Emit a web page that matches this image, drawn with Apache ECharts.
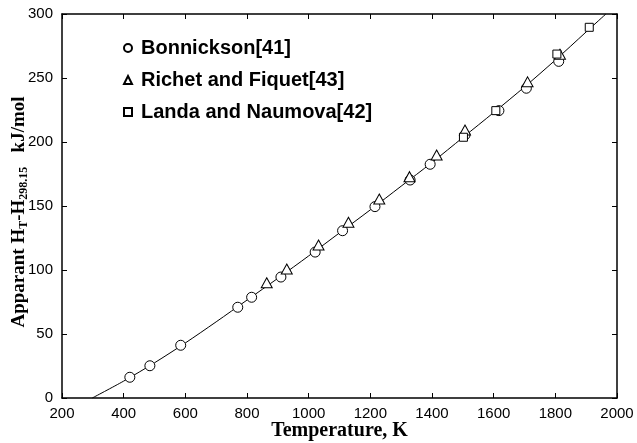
<!DOCTYPE html>
<html>
<head>
<meta charset="utf-8">
<script src="https://cdn.jsdelivr.net/npm/echarts@6/dist/echarts.min.js"></script>
<style>
  html, body { margin: 0; padding: 0; background: #fff; }
  #chart { width: 637px; height: 443px; }
</style>
</head>
<body>
<div id="chart"></div>
<script>
// Measured enthalpy increments (kJ/mol) against temperature (K)
const bonnicksonT = [420, 485, 585, 770, 815, 910, 1021, 1110, 1215, 1329, 1394, 1507, 1617, 1706, 1811];
const bonnicksonH = [16.2, 25.2, 41.2, 70.9, 78.7, 94.5, 114.0, 130.7, 149.5, 170.3, 182.6, 205.5, 224.5, 242.0, 263.0];

const richetT = [864, 929, 1032, 1129, 1229, 1327, 1415, 1507, 1710, 1815];
const richetH = [90.0, 100.8, 119.5, 137.3, 155.5, 172.9, 189.8, 209.4, 247.0, 268.5];

const landaT = [1502, 1607, 1805, 1910];
const landaH = [203.7, 224.5, 268.7, 289.6];

// Smooth fitted curve through the measurements
const fitT = [298.15, 400, 500, 600, 700, 800, 900, 1000, 1100, 1200, 1300, 1400, 1500, 1600, 1700, 1800, 1900, 1964];
const fitH = [0, 13.2, 27.5, 43.0, 59.5, 76.5, 93.5, 111.0, 129.0, 147.0, 165.5, 184.0, 203.5, 223.0, 243.0, 264.0, 286.0, 300.0];

// Axis ticks
const xTicks = [200, 400, 600, 800, 1000, 1200, 1400, 1600, 1800, 2000];
const yTicks = [0, 50, 100, 150, 200, 250, 300];

const seriesNames = ['Bonnickson[41]', 'Richet and Fiquet[43]', 'Landa and Naumova[42]'];

const pairs = (xs, ys) => xs.map((x, i) => [x, ys[i]]);

const chart = echarts.init(document.getElementById('chart'), null, { renderer: 'canvas' });

const tickFont = { fontFamily: 'Liberation Sans, Arial, sans-serif', fontSize: 15, color: '#000', formatter: v => String(v) };
const axisLine = { show: true, onZero: false, lineStyle: { color: '#000', width: 1.5 } };
const axisTick = { show: true, inside: true, length: 5, lineStyle: { color: '#000', width: 1 } };

const hollow = { color: '#fff', borderColor: '#000', borderWidth: 1, opacity: 1 };
const serif = 'Liberation Serif, Times New Roman, serif';

chart.setOption({
  animation: false,
  backgroundColor: '#fff',
  grid: { left: 62, right: 20, top: 14, bottom: 45, containLabel: false, outerBoundsMode: 'none' },
  legend: {
    orient: 'vertical',
    left: 118,
    top: 33,
    itemGap: 12,
    itemWidth: 8,
    itemHeight: 8,
    data: seriesNames,
    textStyle: { fontFamily: 'Liberation Sans, Arial, sans-serif', fontSize: 20, fontWeight: 'bold', color: '#000', padding: [0, 0, 0, 4] }
  },
  xAxis: [
    {
      type: 'value', min: xTicks[0], max: xTicks[xTicks.length - 1], interval: 200,
      axisLine, axisTick, splitLine: { show: false },
      axisLabel: Object.assign({ margin: 8 }, tickFont),
      name: 'Temperature, K', nameLocation: 'middle', nameGap: 23, nameMoveOverlap: false,
      nameTextStyle: { fontFamily: serif, fontSize: 20, fontWeight: 'bold', color: '#000' }
    },
    {
      type: 'value', position: 'top', min: xTicks[0], max: xTicks[xTicks.length - 1], interval: 200,
      axisLine, axisTick, axisLabel: { show: false }, splitLine: { show: false }
    }
  ],
  yAxis: [
    {
      type: 'value', min: yTicks[0], max: yTicks[yTicks.length - 1], interval: 50,
      axisLine, axisTick, splitLine: { show: false },
      axisLabel: Object.assign({ margin: 9 }, tickFont)
    },
    {
      type: 'value', position: 'right', min: yTicks[0], max: yTicks[yTicks.length - 1], interval: 50,
      axisLine, axisTick, axisLabel: { show: false }, splitLine: { show: false }
    }
  ],
  graphic: [
    {
      type: 'text',
      x: 19, y: 212,
      rotation: Math.PI / 2,
      style: {
        text: '{m|Apparant H}{s|T}{m|-H}{s|298.15}{m|   kJ/mol}',
        align: 'center',
        verticalAlign: 'middle',
        fill: '#000',
        rich: {
          m: { fontFamily: serif, fontSize: 19, fontWeight: 'bold', fill: '#000', lineHeight: 24, verticalAlign: 'middle' },
          s: { fontFamily: serif, fontSize: 12, fontWeight: 'bold', fill: '#000', padding: [10, 0, 0, 0], lineHeight: 24 }
        }
      }
    }
  ],
  series: [
    {
      name: 'fit', type: 'line', data: pairs(fitT, fitH), smooth: 0.3,
      showSymbol: false, symbol: 'none', lineStyle: { color: '#000', width: 1 }, z: 1,
      legendHoverLink: false
    },
    {
      name: seriesNames[0], type: 'scatter', data: pairs(bonnicksonT, bonnicksonH),
      symbol: 'circle', symbolSize: 10, itemStyle: hollow, z: 3
    },
    {
      name: seriesNames[1], type: 'scatter', data: pairs(richetT, richetH),
      symbol: 'triangle', symbolSize: [11, 10], itemStyle: hollow, z: 3
    },
    {
      name: seriesNames[2], type: 'scatter', data: pairs(landaT, landaH),
      symbol: 'rect', symbolSize: 8, itemStyle: hollow, z: 3
    }
  ]
});
</script>
</body>
</html>
